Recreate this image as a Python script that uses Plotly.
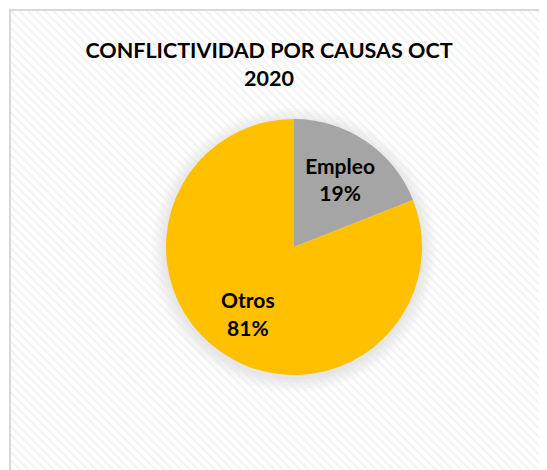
import plotly.graph_objects as go

# data
causas = ['Empleo', 'Otros']
valores = [19, 81]
colores = ['#A5A5A5', '#FFC000']
titulo = 'CONFLICTIVIDAD POR CAUSAS OCT<br>2020'

# page body adds an 8px margin, so the figure is made 8px smaller
W, H = 539, 462
FONT = 'Lato'

fig = go.Figure()

# hatched chart-area background (Excel style)
fig.add_trace(go.Scatter(
    x=[0, 1, 1, 0, 0], y=[0, 0, 1, 1, 0],
    mode='none', fill='toself', hoverinfo='skip', showlegend=False,
    fillcolor='rgba(0,0,0,0)',
    fillpattern=dict(shape='\\', fgcolor='#E6E6E6', bgcolor='rgba(0,0,0,0)',
                     size=6, solidity=0.35),
))

lbl = '<b>%{label}<br>%{percent:.0%}</b>'
pad = '\u00a0' * 4
fig.add_trace(go.Pie(
    labels=causas,
    values=valores,
    marker=dict(colors=colores, line=dict(width=0)),
    sort=False,
    direction='clockwise',
    rotation=0,
    # extra blank line / padding nudges the big-slice label like Excel's
    texttemplate=[lbl, ' <br><b>%{label}' + pad + '<br>%{percent:.0%}' + pad + '</b>'],
    textposition='inside',
    insidetextorientation='horizontal',
    textfont=dict(family=FONT, size=21, color='black'),
    hoverinfo='label+percent',
    showlegend=False,
    domain=dict(x=[158 / W, 414 / W], y=[(H - 367) / H, (H - 111) / H]),
))

# soft shadow under the pie
shadow = []
cx, cy = 286, 242
for r in [142, 139, 136, 133, 130]:
    shadow.append(dict(type='circle', xref='paper', yref='paper', layer='below',
                       x0=(cx - r) / W, x1=(cx + r) / W,
                       y0=1 - (cy + r) / H, y1=1 - (cy - r) / H,
                       line=dict(width=0), fillcolor='rgba(0,0,0,0.018)'))

fig.update_layout(
    width=W, height=H,
    margin=dict(l=0, r=0, t=0, b=0),
    paper_bgcolor='white',
    plot_bgcolor='rgba(0,0,0,0)',
    title=dict(text='<b>' + titulo + '</b>', x=261 / W, xanchor='center',
               y=1 - 50 / H, yanchor='top',
               font=dict(family=FONT, size=21.5, color='black')),
    xaxis=dict(domain=[3 / W, 1], range=[0, 1], visible=False, fixedrange=True),
    yaxis=dict(domain=[0, 1 - 3 / H], range=[0, 1], visible=False, fixedrange=True),
    shapes=shadow + [dict(type='rect', xref='paper', yref='paper',
                          x0=2 / W, x1=1.02, y0=-0.02, y1=1 - 2 / H,
                          line=dict(color='#D9D9D9', width=2))],
)

fig.write_html('out.html')
